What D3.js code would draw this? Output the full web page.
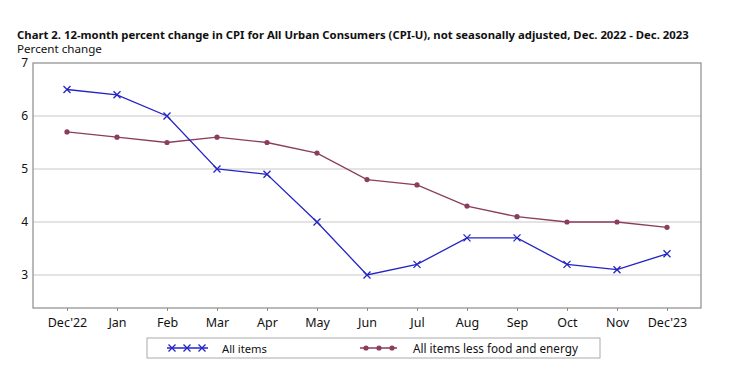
<!DOCTYPE html>
<html><head><meta charset="utf-8">
<script src="https://cdn.jsdelivr.net/npm/d3@7"></script>
<style>body{margin:0;background:#fff;}svg{display:block;font-family:"Noto Sans",sans-serif;}</style>
</head><body>
<svg id="c" width="730" height="385"></svg>
<script>
const months = ["Dec'22","Jan","Feb","Mar","Apr","May","Jun","Jul","Aug","Sep","Oct","Nov","Dec'23"];
const allItems = [6.5,6.4,6.0,5.0,4.9,4.0,3.0,3.2,3.7,3.7,3.2,3.1,3.4];
const coreItems = [5.7,5.6,5.5,5.6,5.5,5.3,4.8,4.7,4.3,4.1,4.0,4.0,3.9];
const yTicks = [3,4,5,6,7];
const seriesNames = ["All items","All items less food and energy"];

const svg = d3.select("#c");
const frame = {l:33, r:701, t:63, b:308};
const x = d3.scalePoint().domain(months).range([67,667]);
const y = d3.scaleLinear().domain([3,7]).range([275,63]);
const blue = "#2424c4", maroon = "#8a3d5c";

function fitText(sel, target, size){
  sel.attr("font-size", size);
  const w = sel.node().getComputedTextLength();
  sel.attr("font-size", size*target/w);
}
const title = svg.append("text").attr("x",17).attr("y",39).attr("font-weight","bold").attr("fill","#111")
  .text("Chart 2. 12-month percent change in CPI for All Urban Consumers (CPI-U), not seasonally adjusted, Dec. 2022 - Dec. 2023");
fitText(title, 673, 12.5);
const sub = svg.append("text").attr("x",17).attr("y",52.5).attr("fill","#111").text("Percent change");
fitText(sub, 85, 12.5);

// gridlines
svg.append("g").selectAll("line").data(yTicks.filter(d=>d<7)).join("line")
  .attr("x1",frame.l).attr("x2",frame.r).attr("y1",d=>y(d)).attr("y2",d=>y(d))
  .attr("stroke","#c8c8c8").attr("stroke-width",1);

// frame
svg.append("rect").attr("x",frame.l).attr("y",frame.t).attr("width",frame.r-frame.l).attr("height",frame.b-frame.t)
  .attr("fill","none").attr("stroke","#8c8c8c").attr("stroke-width",1.2);

// y axis labels
const yAxis = d3.axisLeft(y).tickValues(yTicks).tickSize(0).tickPadding(5).tickFormat(d3.format("d"));
const gy = svg.append("g").attr("transform",`translate(${frame.l},0)`).call(yAxis);
gy.select(".domain").remove();
gy.selectAll("text").attr("font-size",12).attr("fill","#111").attr("font-family","Noto Sans, sans-serif");

// x axis
const xAxis = d3.axisBottom(x).tickSize(3).tickPadding(7);
const gx = svg.append("g").attr("transform",`translate(0,${frame.b})`).call(xAxis);
gx.select(".domain").remove();
gx.selectAll("line").attr("stroke","#8c8c8c");
gx.selectAll("text").attr("font-size",12.5).attr("fill","#111").attr("font-family","Noto Sans, sans-serif");

const line = d3.line().x((d,i)=>x(months[i])).y(d=>y(d));
svg.append("path").datum(coreItems).attr("d",line).attr("fill","none").attr("stroke",maroon).attr("stroke-width",1.3);
svg.append("g").selectAll("circle").data(coreItems).join("circle")
  .attr("cx",(d,i)=>x(months[i])).attr("cy",d=>y(d)).attr("r",2.6).attr("fill",maroon);

svg.append("path").datum(allItems).attr("d",line).attr("fill","none").attr("stroke",blue).attr("stroke-width",1.3);
const xm = (g, cx, cy) => {
  const s=3.5;
  g.append("path").attr("d",`M${cx-s},${cy-s}L${cx+s},${cy+s}M${cx-s},${cy+s}L${cx+s},${cy-s}`)
   .attr("stroke",blue).attr("stroke-width",1.3).attr("fill","none");
};
const gm = svg.append("g");
allItems.forEach((d,i)=>xm(gm, x(months[i]), y(d)));

// legend
const lg = svg.append("g");
lg.append("rect").attr("x",147).attr("y",338).attr("width",453).attr("height",20)
  .attr("fill","none").attr("stroke","#aaa").attr("stroke-width",1);
lg.append("line").attr("x1",167).attr("x2",208).attr("y1",348).attr("y2",348).attr("stroke",blue).attr("stroke-width",1.3);
[172,187,202].forEach(cx=>xm(lg,cx,348));
const l1 = lg.append("text").attr("x",222).attr("y",352.5).attr("fill","#111").text(seriesNames[0]);
fitText(l1, 45, 12.5);
lg.append("line").attr("x1",360).attr("x2",397).attr("y1",348).attr("y2",348).attr("stroke",maroon).attr("stroke-width",1.3);
[366,379,392].forEach(cx=>lg.append("circle").attr("cx",cx).attr("cy",348).attr("r",2.6).attr("fill",maroon));
const l2 = lg.append("text").attr("x",413).attr("y",352.5).attr("fill","#111").text(seriesNames[1]);
fitText(l2, 165, 12.5);
</script>
</body></html>
